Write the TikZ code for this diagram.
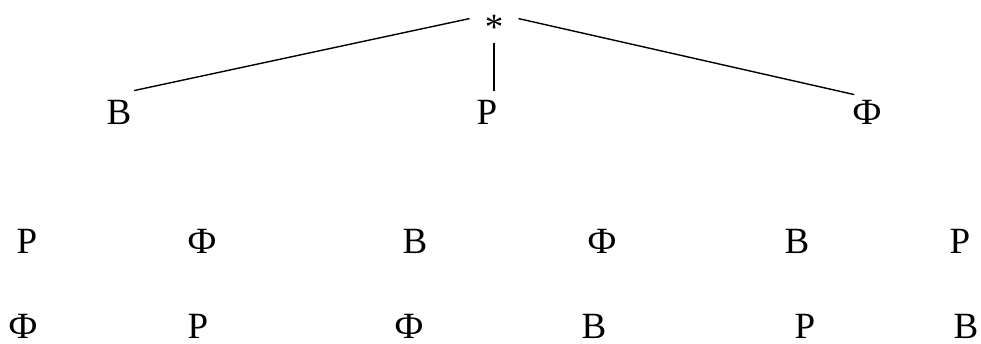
\documentclass[tikz,border=0pt]{standalone}
\usepackage{fontspec}
\setmainfont{Liberation Serif}
\usetikzlibrary{positioning}

\tikzset{letter/.style={inner sep=0pt, anchor=base, font=\fontsize{37}{40}\selectfont},
    branch/.style={line width=1.4pt}}

\begin{document}
\begin{tikzpicture}[x=1pt, y=-1pt]
    \useasboundingbox (0,0) rectangle (981,343);
    \node[letter](root) at (494,39){*};
    \node[letter](v) at (119,124){В};
    \node[letter](r) at (487,124){Р};
    \node[letter](f) at (867,124){Ф};
    \draw[branch]([xshift=-15pt,yshift=-4pt]root.north west) -- ([xshift=2.5pt,yshift=9pt]v.north east);
    \draw[branch]([xshift=15pt,yshift=-4pt]root.north east) -- ([xshift=2pt,yshift=5pt]f.north west);
    \draw[branch, shorten <=4pt, shorten >=9pt](root.south) -- (root.south |- r.north);
    % second row
    \node[letter](r1) at (27,253){Р};
    \node[letter](f1) at (202,253){Ф};
    \node[letter](v2) at (415,253){В};
    \node[letter](f2) at (602,253){Ф};
    \node[letter](v3) at (797,253){В};
    \node[letter](r3) at (960,253){Р};
    % third row
    \node[letter](f11) at (23,338){Ф};
    \node[letter](r11) at (198,338){Р};
    \node[letter](f22) at (409,338){Ф};
    \node[letter](v22) at (594,338){В};
    \node[letter](r33) at (805,338){Р};
    \node[letter](v33) at (966,338){В};
\end{tikzpicture}
\end{document}
